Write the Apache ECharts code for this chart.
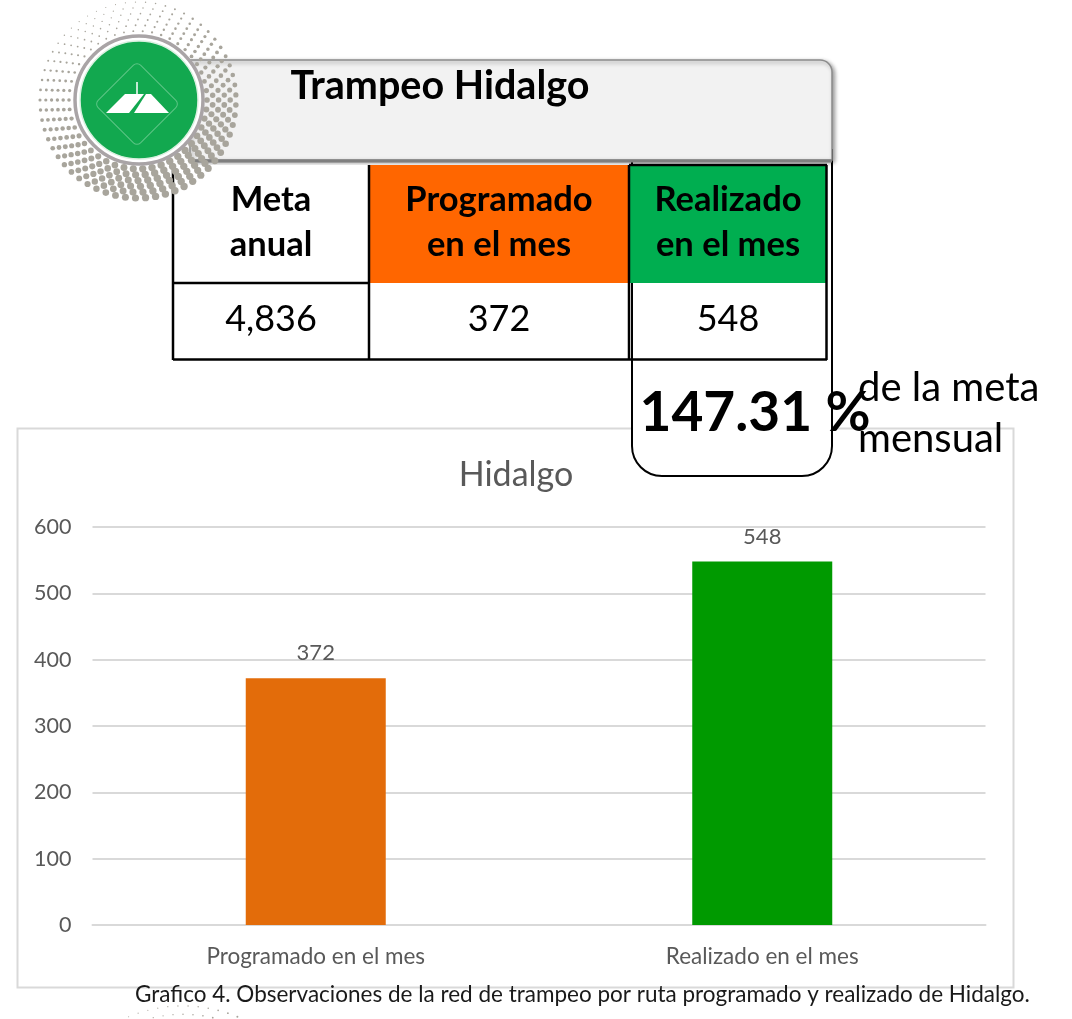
<!DOCTYPE html>
<html><head><meta charset="utf-8">
<style>html,body{margin:0;padding:0;background:#fff}#c{width:1072px;height:1019px}</style>
<script src="https://cdn.jsdelivr.net/npm/echarts@6/dist/echarts.min.js"></script>
</head><body><div id="c"></div>
<script>
const chartTitle = 'Hidalgo';
const categories = ['Programado en el mes', 'Realizado en el mes'];
const values = [372, 548];
const barColors = ['#E36C0A', '#009A00'];
const yTicks = [0, 100, 200, 300, 400, 500, 600];
const panelTitle = 'Trampeo Hidalgo';
const tableHeads = ['Meta\nanual', 'Programado\nen el mes', 'Realizado\nen el mes'];
const tableValues = ['4,836', '372', '548'];
const percentText = '147.31 %';
const percentNote = ['de la meta', 'mensual'];
const caption = 'Grafico 4. Observaciones de la red de trampeo por ruta programado y realizado de Hidalgo.';

const F = 'Lato, "Open Sans", sans-serif';
const g = [];
function rect(x, y, w, h, fill, stroke, lw, z, r, extra) {
  g.push({type:'rect', z, shape:{x, y, width:w, height:h, r:r||0},
    style:Object.assign({fill, stroke:stroke||null, lineWidth:lw||0}, extra||{}), silent:true});
}
function line(x1, y1, x2, y2, stroke, lw, z) {
  g.push({type:'line', z, shape:{x1, y1, x2, y2}, style:{stroke, lineWidth:lw}, silent:true});
}
function text(x, y, t, size, weight, z, color, align, lh) {
  g.push({type:'text', z, x, y, style:{text:t, font:(weight||'normal')+' '+size+'px '+F,
    fill:color||'#000', align:align||'center', verticalAlign:'middle', lineHeight:lh||size*1.2}, silent:true});
}
function dots(cx, cy, z, scale) {
  for (let ring = 0; ring < 6; ring++) {
    const R = (69 + ring * 5.8) * scale, n = Math.round((46 + ring * 3) * scale);
    for (let i = 0; i < n; i++) {
      const a = (i + (ring % 2) * 0.5) / n * Math.PI * 2;
      const k = (Math.cos(a - 1.2) + 1) / 2;
      const rad = Math.max(0.5, 0.9 + 2.8 * k - ring * 0.07 * (1 - k));
      g.push({type:'circle', z, shape:{cx:cx + R * Math.cos(a), cy:cy + R * Math.sin(a), r:rad},
        style:{fill:'#A8A59C'}, silent:true});
    }
  }
}

// chart panel
rect(17.5, 428.5, 996, 559, '#fff', '#D9D9D9', 2, 0);

// rounded percent box
rect(632, 150, 200, 326, '#fff', '#000', 2, 5, [0,0,30,30]);

// title panel
rect(190, 60, 642, 100, '#F2F2F2', '#8C8C8C', 1.5, 6, [0,12,0,0],
  {shadowBlur:4, shadowColor:'rgba(0,0,0,0.4)', shadowOffsetX:2, shadowOffsetY:2});
line(190, 161, 832, 161, '#7F7F7F', 3, 6);
text(440, 86, panelTitle, 39.5, 'bold', 9);

// table
rect(173, 165, 197, 118, '#fff', null, 0, 7);
rect(370, 165, 259, 118, '#FF6600', null, 0, 7);
rect(629, 165, 198, 118, '#00AE50', null, 0, 7);
rect(173, 283, 654, 77, '#fff', null, 0, 7);
[[173,165,173,360],[369,165,369,360],[629,165,629,360],[826.5,165,826.5,360],
 [173,283,369,283],[173,359.5,827,359.5],[629,165,827,165]].forEach(l => line(l[0],l[1],l[2],l[3],'#000',2.5,8));
line(632, 283, 632, 360, '#000', 2, 8);
[271, 499, 728].forEach((x, i) => {
  text(x, 222, tableHeads[i], 34.5, 'bold', 10, '#000', 'center', 45);
  text(x, 319, tableValues[i], 36, 'normal', 10);
});

// halftones sit over the panel
dots(138, 100, 11, 1);
dots(183, 1148, 11, 1.45);

// percent
text(755, 413, percentText, 55, 'bold', 11);
text(858, 388, percentNote[0], 40, 'normal', 11, '#000', 'left');
text(858, 439, percentNote[1], 40, 'normal', 11, '#000', 'left');

// logo
g.push({type:'circle', z:12, shape:{cx:139, cy:100, r:64}, style:{fill:'#fff', stroke:'#A9A4A6', lineWidth:3.5}, silent:true});
g.push({type:'circle', z:13, shape:{cx:139, cy:100, r:59}, style:{fill:'#12A84F', stroke:'#D9F0E0', lineWidth:1.5}, silent:true});
g.push({type:'rect', z:14, x:137, y:104, rotation:Math.PI/4, shape:{x:-30, y:-30, width:60, height:60, r:5},
  style:{fill:null, stroke:'#5CC585', lineWidth:1}, silent:true});
g.push({type:'polygon', z:15, shape:{points:[[106,113],[125,94],[144,94],[129,113]]}, style:{fill:'#fff'}, silent:true});
g.push({type:'polygon', z:15, shape:{points:[[134,113],[146,94],[151,94],[169,113]]}, style:{fill:'#fff'}, silent:true});
line(137, 82, 137, 95, '#fff', 1.5, 15);

// caption
text(135, 995, caption, 22.5, 'normal', 12, '#1a1a1a', 'left');

const chart = echarts.init(document.getElementById('c'), null, {renderer:'canvas'});
chart.setOption({
  animation:false,
  backgroundColor:'#fff',
  title:{text:chartTitle, left:511, top:470, textAlign:'center', textVerticalAlign:'middle',
    textStyle:{fontFamily:F, fontWeight:'normal', fontSize:34, color:'#595959'}, z:4},
  grid:{left:92.5, right:86.5, top:527, height:398},
  xAxis:{type:'category', data:categories,
    axisTick:{show:false},
    axisLine:{lineStyle:{color:'#D9D9D9', width:2}},
    axisLabel:{fontFamily:F, fontSize:22.5, color:'#595959', margin:20}},
  yAxis:{type:'value', min:yTicks[0], max:yTicks[yTicks.length-1], interval:100,
    axisLine:{show:false}, axisTick:{show:false},
    splitLine:{lineStyle:{color:'#D9D9D9', width:2}},
    axisLabel:{fontFamily:F, fontSize:21.5, color:'#595959', margin:21, align:'right',
      formatter:v => yTicks.includes(v) ? String(v) : ''}},
  series:[{type:'bar', barWidth:140, z:3,
    data:values.map((v,i)=>({value:v, itemStyle:{color:barColors[i]}})),
    label:{show:true, position:'top', distance:14, fontFamily:F, fontSize:22, color:'#595959'}}],
  graphic:{elements:g}
});
</script></body></html>
